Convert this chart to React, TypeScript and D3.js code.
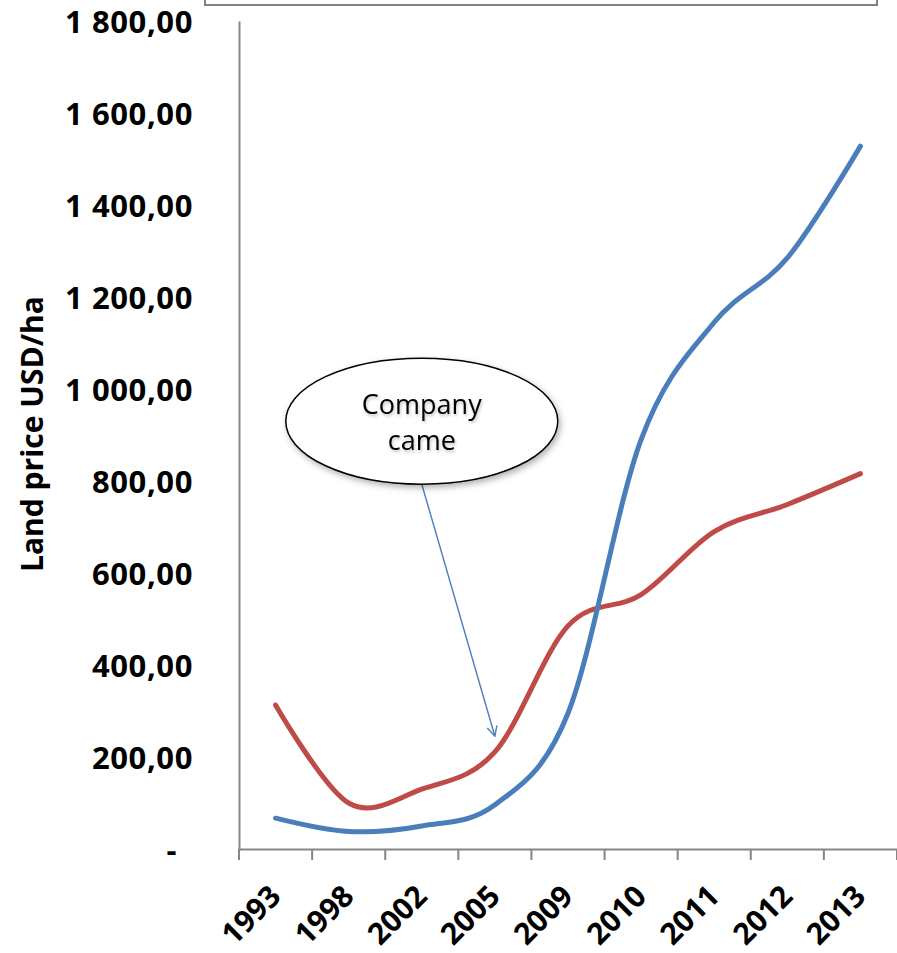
import React, { useEffect, useRef } from "react";
import * as d3 from "d3";

// Land price per hectare, by year
const years = ["1993", "1998", "2002", "2005", "2009", "2010", "2011", "2012", "2013"];
const seriesBlue = [67, 38, 50, 96, 295, 890, 1145, 1285, 1528];
const seriesRed = [313, 100, 130, 211, 485, 553, 690, 749, 816];
const yTicks = [0, 200, 400, 600, 800, 1000, 1200, 1400, 1600, 1800];

// Callout annotation, placed in data space
const calloutYear = "2002";
const calloutValue = 930;
const arrowYear = "2005";
const arrowValue = 245;
const calloutLines = ["Company", "came"];

const W = 897;
const H = 953;
const FONT = "'Open Sans', 'Liberation Sans', sans-serif";

function formatValue(v: number): string {
  if (v === 0) return "-";
  const s = v.toFixed(2).replace(".", ",");
  const [int, dec] = s.split(",");
  const grouped = int.replace(/\B(?=(\d{3})+(?!\d))/g, " ");
  return grouped + "," + dec;
}

export default function App() {
  const ref = useRef<SVGSVGElement | null>(null);

  useEffect(() => {
    const svg = d3.select(ref.current);
    svg.selectAll("*").remove();

    const left = 239;
    const right = 897;
    const top = 21;
    const bottom = 849;

    const x = d3.scaleBand<string>().domain(years).range([left, right]).padding(0);
    const y = d3.scaleLinear().domain([0, 1800]).range([bottom, top]);
    const cx = (d: string) => (x(d) as number) + x.bandwidth() / 2;

    const defs = svg.append("defs");
    const shadow = defs.append("filter").attr("id", "soft-shadow")
      .attr("x", "-20%").attr("y", "-20%").attr("width", "140%").attr("height", "150%");
    shadow.append("feDropShadow").attr("dx", 2).attr("dy", 3).attr("stdDeviation", 3)
      .attr("flood-color", "#000").attr("flood-opacity", 0.3);
    const textGlow = defs.append("filter").attr("id", "text-glow")
      .attr("x", "-20%").attr("y", "-40%").attr("width", "140%").attr("height", "180%");
    textGlow.append("feDropShadow").attr("dx", 1).attr("dy", 2).attr("stdDeviation", 1.5)
      .attr("flood-color", "#000").attr("flood-opacity", 0.25);
    const marker = defs.append("marker").attr("id", "arrow-open")
      .attr("viewBox", "0 0 12 12").attr("refX", 11).attr("refY", 6)
      .attr("markerWidth", 12).attr("markerHeight", 12).attr("markerUnits", "userSpaceOnUse")
      .attr("orient", "auto");
    marker.append("path").attr("d", "M1,1 L11,6 L1,11")
      .attr("fill", "none").attr("stroke", "#4a7ebb").attr("stroke-width", 1.4);

    // Legend frame along the top edge
    svg.append("rect")
      .attr("x", 205).attr("y", -20).attr("width", 672).attr("height", 25)
      .attr("fill", "#fff").attr("stroke", "#808080").attr("stroke-width", 2);

    // Y axis
    const yAxis = svg.append("g").attr("transform", `translate(${left},0)`)
      .call(d3.axisLeft(y).tickValues(yTicks).tickSize(0).tickPadding(46)
        .tickFormat((d) => formatValue(d as number)));
    yAxis.select(".domain").attr("stroke", "#868686").attr("stroke-width", 2);
    yAxis.selectAll("text")
      .attr("font-family", FONT).attr("font-size", 31).attr("font-weight", 700)
      .attr("letter-spacing", 0.6)
      .attr("fill", "#000")
      .attr("dy", "0.38em")
      .attr("dx", (d: any) => (d === 0 ? -16 : 0));

    // X axis
    const xAxis = svg.append("g").attr("transform", `translate(0,${bottom})`)
      .call(d3.axisBottom(x).tickSize(0).tickFormat(() => ""));
    xAxis.select(".domain").attr("stroke", "#868686").attr("stroke-width", 2);
    const edges = years.map((d) => x(d) as number).concat([right]);
    svg.append("g").selectAll("line").data(edges).join("line")
      .attr("x1", (d) => d).attr("x2", (d) => d)
      .attr("y1", bottom).attr("y2", bottom + 11)
      .attr("stroke", "#868686").attr("stroke-width", 2);
    svg.append("g").selectAll("text").data(years).join("text")
      .attr("transform", (d) => `translate(${cx(d) + 7},${bottom + 49}) rotate(-45)`)
      .attr("text-anchor", "end")
      .attr("font-family", FONT).attr("font-size", 30).attr("font-weight", 700)
      .attr("fill", "#000")
      .text((d) => d);

    // Y axis title
    svg.append("text")
      .attr("transform", `translate(43,434) rotate(-90)`)
      .attr("text-anchor", "middle")
      .attr("font-family", FONT).attr("font-size", 30).attr("font-weight", 700)
      .attr("fill", "#000")
      .text("Land price USD/ha");

    // Series lines
    const line = d3.line<number>()
      .x((_, i) => cx(years[i]))
      .y((d) => y(d))
      .curve(d3.curveCardinal.tension(0));

    svg.append("path").datum(seriesRed).attr("d", line)
      .attr("fill", "none").attr("stroke", "#be4b48").attr("stroke-width", 5)
      .attr("stroke-linecap", "round").attr("stroke-linejoin", "round");
    svg.append("path").datum(seriesBlue).attr("d", line)
      .attr("fill", "none").attr("stroke", "#4a7ebb").attr("stroke-width", 5)
      .attr("stroke-linecap", "round").attr("stroke-linejoin", "round");

    // Callout
    const ex = cx(calloutYear);
    const ey = y(calloutValue);
    const rx = 136;
    const ry = 63;
    svg.append("line")
      .attr("x1", ex).attr("y1", ey + ry)
      .attr("x2", cx(arrowYear)).attr("y2", y(arrowValue))
      .attr("stroke", "#4a7ebb").attr("stroke-width", 1.4)
      .attr("marker-end", "url(#arrow-open)");
    svg.append("ellipse")
      .attr("cx", ex).attr("cy", ey).attr("rx", rx).attr("ry", ry)
      .attr("fill", "#fff").attr("stroke", "#000").attr("stroke-width", 1.5)
      .attr("filter", "url(#soft-shadow)");
    svg.append("g").attr("filter", "url(#text-glow)")
      .selectAll("text").data(calloutLines).join("text")
      .attr("x", ex).attr("y", (_, i) => ey - 7 + i * 36)
      .attr("text-anchor", "middle")
      .attr("font-family", FONT).attr("font-size", 27)
      .attr("fill", "#000")
      .text((d) => d);
  }, []);

  return (
    <svg
      ref={ref}
      width={W}
      height={H}
      style={{ position: "absolute", left: 0, top: 0, background: "#fff" }}
    />
  );
}
